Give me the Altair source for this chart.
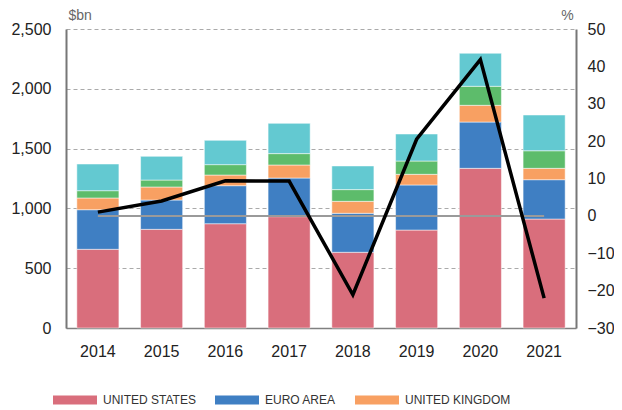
import altair as alt
import pandas as pd

years = ["2014", "2015", "2016", "2017", "2018", "2019", "2020", "2021"]
series = ["UNITED STATES", "EURO AREA", "UNITED KINGDOM", "JAPAN", "OTHER"]
us = [658, 825, 872, 931, 633, 819, 1335, 911]
euro = [331, 245, 318, 323, 326, 377, 387, 329]
uk = [98, 109, 89, 109, 100, 89, 140, 95]
japan = [61, 58, 87, 95, 98, 111, 159, 147]
other = [223, 198, 203, 253, 198, 226, 276, 299]
growth = [1.0, 4.0, 9.4, 9.3, -21.1, 20.5, 41.8, -22.0]
colors = ["#D96E7C", "#3F7FC3", "#F8A062", "#5DBC6B", "#63C9D1"]

rows = []
for s_i, (name, vals) in enumerate(zip(series, [us, euro, uk, japan, other])):
    for y, v in zip(years, vals):
        rows.append({"year": y, "series": name, "value": v, "order": s_i})
bars_df = pd.DataFrame(rows)
line_df = pd.DataFrame({"year": years, "pct": growth, "zero": [0] * len(years)})

FONT = "Liberation Sans"

x_enc = alt.X(
    "year:O",
    title=None,
    scale=alt.Scale(paddingInner=0.34, paddingOuter=0.17),
    axis=alt.Axis(labelAngle=0, labelFontSize=16, labelColor="#222222", labelFont=FONT,
                  labelPadding=15, ticks=False, domainColor="#808080", domainWidth=1.5),
)

bars = alt.Chart(bars_df).mark_bar(stroke="white", strokeWidth=0.5).encode(
    x=x_enc,
    y=alt.Y(
        "sum(value):Q",
        scale=alt.Scale(domain=[0, 2500], nice=False),
        axis=alt.Axis(
            title="$bn", titleAngle=0, titleX=2, titleY=-10, titleAlign="left",
            titleBaseline="alphabetic", titleFontSize=14, titleFontWeight="normal",
            titleColor="#666666", titleFont=FONT,
            values=[0, 500, 1000, 1500, 2000, 2500], format=",.0f",
            labelFontSize=16, labelColor="#222222", labelFont=FONT, labelPadding=15,
            ticks=False, domainColor="#777777", domainWidth=2,
            grid=True, gridDash=[4, 3], gridColor="#aaaaaa", gridWidth=1,
        ),
    ),
    color=alt.Color(
        "series:N",
        scale=alt.Scale(domain=series, range=colors),
        legend=alt.Legend(
            values=series[:3], title=None, orient="none", legendX=-13, legendY=349,
            direction="horizontal", symbolType="M-1,-0.2L1,-0.2L1,0.2L-1,0.2Z",
            symbolSize=1936, symbolStrokeWidth=0, symbolOpacity=1, labelFontSize=12,
            labelFont=FONT, labelColor="#333333", labelOffset=6,
            columnPadding=19, labelLimit=200,
        ),
    ),
    order=alt.Order("order:Q", sort="ascending"),
)

right_axis = alt.Axis(
    title="%", titleAngle=0, titleX=-9, titleY=-10, titleAlign="center",
    titleBaseline="alphabetic", titleFontSize=14, titleFontWeight="normal",
    titleColor="#666666", titleFont=FONT, orient="right",
    values=[-30, -20, -10, 0, 10, 20, 30, 40, 50],
    labelFontSize=16, labelColor="#222222", labelFont=FONT, labelPadding=11,
    ticks=False, domainColor="#777777", domainWidth=2, grid=False,
)
right_scale = alt.Scale(domain=[-30, 50], nice=False)

zero = alt.Chart(line_df).mark_line(color="#9a9a9a", strokeWidth=2).encode(
    x=alt.X("year:O"),
    y=alt.Y("zero:Q", scale=right_scale, axis=right_axis),
)
line = alt.Chart(line_df).mark_line(color="black", strokeWidth=3.5).encode(
    x=alt.X("year:O"),
    y=alt.Y("pct:Q", scale=right_scale, axis=right_axis),
)

chart = alt.layer(bars, alt.layer(zero, line)).resolve_scale(y="independent").properties(
    width=510, height=299,
    autosize=alt.AutoSizeParams(type="none"),
    padding={"left": 58, "top": 21, "right": 38, "bottom": 80},
).configure_view(strokeWidth=0)

chart.save("out.html", embed_options={"renderer": "svg", "actions": False})
